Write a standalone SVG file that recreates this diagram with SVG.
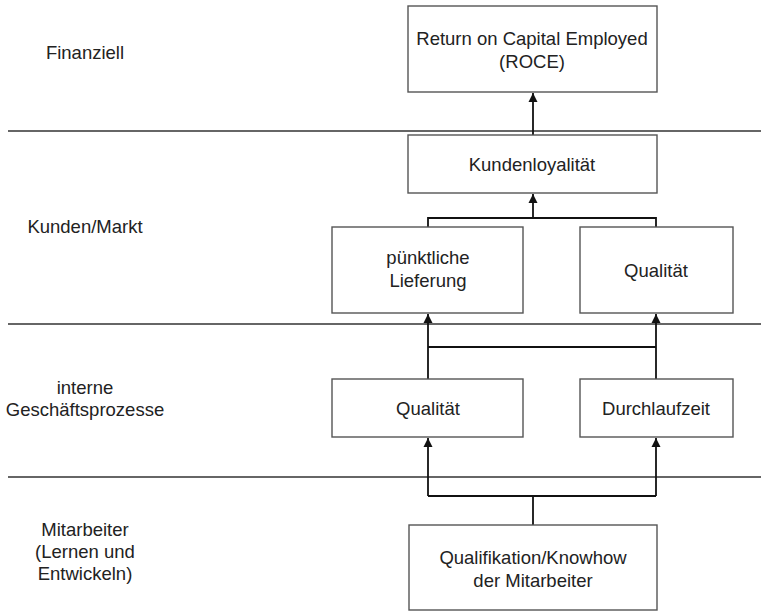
<svg xmlns="http://www.w3.org/2000/svg" width="761" height="612" viewBox="0 0 761 612">
  <style>
    text { font-family: "Liberation Sans", Arial, sans-serif; font-size: 18.5px; fill: #222; text-anchor: middle; }
    .box { fill: #fff; stroke: #555; stroke-width: 1.4; }
    .sep { stroke: #333; stroke-width: 1.4; fill: none; }
    .wire { stroke: #111; stroke-width: 1.8; fill: none; }
  </style>
  <defs>
    <marker id="arrow" viewBox="0 0 10 10" refX="10" refY="5" markerWidth="5" markerHeight="6" markerUnits="strokeWidth" orient="auto">
      <path d="M0,0 L10,5 L0,10 z" fill="#111"/>
    </marker>
  </defs>

  <rect width="761" height="612" fill="#fff"/>

  <!-- layer separators -->
  <g id="separators">
    <line class="sep" x1="8" y1="131" x2="761" y2="131"/>
    <line class="sep" x1="8" y1="324" x2="761" y2="324"/>
    <line class="sep" x1="8" y1="477" x2="761" y2="477"/>
  </g>

  <!-- perspective labels -->
  <g id="labels">
    <text x="85" y="59">Finanziell</text>
    <text x="85" y="233">Kunden/Markt</text>
    <text x="85" y="394">interne</text>
    <text x="85" y="416">Geschäftsprozesse</text>
    <text x="85" y="536">Mitarbeiter</text>
    <text x="85" y="558">(Lernen und</text>
    <text x="85" y="580">Entwickeln)</text>
  </g>

  <!-- connectors -->
  <g id="connectors">
    <line class="wire" x1="533" y1="135" x2="533" y2="93" marker-end="url(#arrow)"/>
    <line class="wire" x1="533" y1="218" x2="533" y2="194" marker-end="url(#arrow)"/>
    <polyline class="wire" points="428,227 428,218 656,218 656,227"/>
    <line class="wire" x1="428" y1="379" x2="428" y2="314" marker-end="url(#arrow)"/>
    <line class="wire" x1="656" y1="379" x2="656" y2="314" marker-end="url(#arrow)"/>
    <line class="wire" x1="428" y1="347" x2="656" y2="347"/>
    <polyline class="wire" points="428,496 656,496"/>
    <line class="wire" x1="428" y1="496" x2="428" y2="438" marker-end="url(#arrow)"/>
    <line class="wire" x1="656" y1="496" x2="656" y2="438" marker-end="url(#arrow)"/>
    <line class="wire" x1="533" y1="525" x2="533" y2="496"/>
  </g>

  <g id="roce">
    <rect class="box" x="408" y="6" width="249" height="86"/>
    <text x="532" y="45">Return on Capital Employed</text>
    <text x="532" y="68">(ROCE)</text>
  </g>

  <g id="kundenloyalitaet">
    <rect class="box" x="408" y="135" width="249" height="58"/>
    <text x="532" y="171">Kundenloyalität</text>
  </g>

  <g id="lieferung">
    <rect class="box" x="332" y="227" width="191" height="86"/>
    <text x="428" y="264">pünktliche</text>
    <text x="428" y="287">Lieferung</text>
  </g>

  <g id="qualitaet-markt">
    <rect class="box" x="580" y="227" width="153" height="86"/>
    <text x="656" y="277">Qualität</text>
  </g>

  <g id="qualitaet-prozess">
    <rect class="box" x="332" y="379" width="191" height="58"/>
    <text x="428" y="415">Qualität</text>
  </g>

  <g id="durchlaufzeit">
    <rect class="box" x="580" y="379" width="153" height="58"/>
    <text x="656" y="415">Durchlaufzeit</text>
  </g>

  <g id="qualifikation">
    <rect class="box" x="409" y="525" width="248" height="85"/>
    <text x="533" y="564">Qualifikation/Knowhow</text>
    <text x="533" y="587">der Mitarbeiter</text>
  </g>
</svg>
